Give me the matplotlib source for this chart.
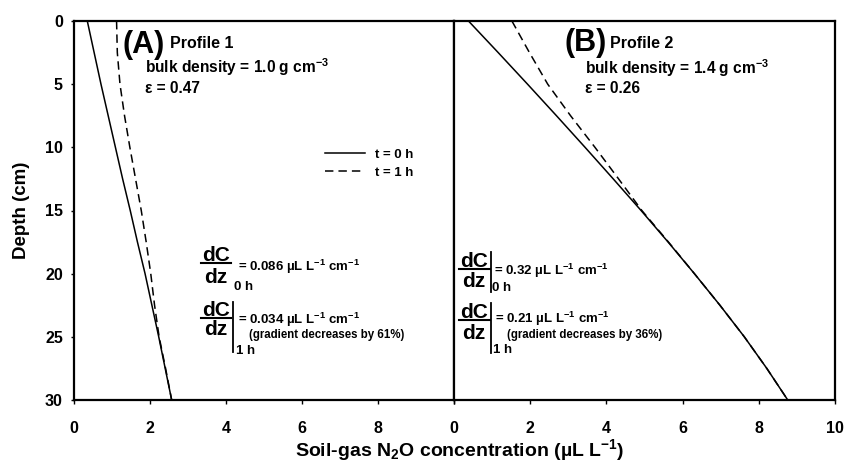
import matplotlib
matplotlib.use("Agg")
import matplotlib.pyplot as plt
from matplotlib.lines import Line2D

plt.rcParams['font.family'] = ['Liberation Sans', 'DejaVu Sans']
plt.rcParams['font.weight'] = 'bold'
plt.rcParams['mathtext.default'] = 'regular'

# ---------------- data ----------------
depth_a_0h = [0, 2.5, 5, 7.5, 10, 12.5, 15, 17.5, 20, 22.5, 25, 27.5, 30]
conc_a_0h = [0.35, 0.53, 0.71, 0.90, 1.09, 1.28, 1.48, 1.67, 1.87, 2.05, 2.23, 2.40, 2.57]
depth_a_1h = [0, 2.5, 5, 7.5, 10, 12.5, 15, 17.5, 20, 22.5, 25, 27.5, 30]
conc_a_1h = [1.12, 1.14, 1.21, 1.33, 1.47, 1.62, 1.77, 1.90, 2.02, 2.12, 2.24, 2.41, 2.57]

depth_b_0h = [0, 2.5, 5, 7.5, 10, 12.5, 15, 17.5, 20, 22.5, 25, 27.5, 30]
conc_b_0h = [0.38, 1.16, 1.93, 2.69, 3.44, 4.18, 4.91, 5.62, 6.31, 6.98, 7.62, 8.21, 8.76]
depth_b_1h = [0, 2.5, 5, 7.5, 10, 12.5, 15, 17.5, 20, 22.5, 25, 27.5, 30]
conc_b_1h = [1.52, 1.98, 2.46, 3.06, 3.70, 4.32, 4.93, 5.63, 6.31, 6.98, 7.62, 8.21, 8.76]

xticks = [0, 2, 4, 6, 8, 10]
xtick_labels_a = ['0', '2', '4', '6', '8', '']
xtick_labels_b = ['0', '2', '4', '6', '8', '10']
yticks = [0, 5, 10, 15, 20, 25, 30]
legend_labels = ['t = 0 h', 't = 1 h']

W, H = 846, 475
fig = plt.figure(figsize=(W / 100, H / 100), dpi=100)


def P(px, py):
    return px / W, 1 - py / H


axA = fig.add_axes([74 / W, 1 - 400 / H, 380 / W, 379 / H])
axB = fig.add_axes([454 / W, 1 - 400 / H, 381 / W, 379 / H])

LW = 1.1
dash = (0, (5.5, 3.3))
la, = axA.plot(conc_a_0h, depth_a_0h, color='black', lw=LW, label=legend_labels[0])
lb, = axA.plot(conc_a_1h, depth_a_1h, color='black', lw=LW, linestyle=dash, label=legend_labels[1])
axB.plot(conc_b_1h, depth_b_1h, color='black', lw=LW, linestyle=dash)
axB.plot(conc_b_0h, depth_b_0h, color='black', lw=LW)

for ax, labs in ((axA, xtick_labels_a), (axB, xtick_labels_b)):
    ax.set_xlim(0, 10)
    ax.set_ylim(30, 0)
    ax.set_xticks(xticks)
    ax.set_xticklabels(labs, fontsize=11.5, fontweight='bold')
    ax.tick_params(axis='x', direction='out', length=3, width=1, pad=12)
    for s in ax.spines.values():
        s.set_linewidth(1.6)

axA.set_yticks(yticks)
axA.set_yticklabels([str(v) for v in yticks], fontsize=11.5, fontweight='bold')
axA.tick_params(axis='y', direction='out', length=2, width=1, pad=6)
axB.set_yticks(yticks)
axB.set_yticklabels([])
axB.tick_params(axis='y', length=0)

axA.set_ylabel('Depth (cm)', fontsize=13.5, fontweight='bold', labelpad=11)
fig.text(*P(460, 456), 'Soil-gas N$_2$O concentration (µL L$^{-1}$)',
         fontsize=14, fontweight='bold', ha='center', va='baseline')

axA.legend(handles=[la, lb], loc='upper left', bbox_to_anchor=((325 - 74) / 380, 0.664),
           frameon=False, fontsize=9.5, handlelength=3.0, handletextpad=0.8,
           labelspacing=0.45, borderpad=0, borderaxespad=0)

# ---------------- panel headings ----------------
fig.text(*P(122, 53), '(A)', fontsize=22, fontweight='bold', va='baseline')
fig.text(*P(170, 47.5), 'Profile 1', fontsize=11.5, fontweight='bold', va='baseline')
fig.text(*P(145, 73.5), 'bulk density = 1.0 g cm$^{-3}$', fontsize=11.2, fontweight='bold', va='baseline')
fig.text(*P(145, 93), 'ε = 0.47', fontsize=11.2, fontweight='bold', va='baseline')

fig.text(*P(564, 51), '(B)', fontsize=22, fontweight='bold', va='baseline')
fig.text(*P(610, 47.5), 'Profile 2', fontsize=11.5, fontweight='bold', va='baseline')
fig.text(*P(585, 74), 'bulk density = 1.4 g cm$^{-3}$', fontsize=11.2, fontweight='bold', va='baseline')
fig.text(*P(585, 93), 'ε = 0.26', fontsize=11.2, fontweight='bold', va='baseline')


# ---------------- gradient annotations ----------------
def frac(xc, x0, x1, ybar, ytop_base, ybot_base):
    fig.text(*P(xc, ytop_base), 'dC', fontsize=15, fontweight='bold', ha='center', va='baseline')
    fig.text(*P(xc, ybot_base), 'dz', fontsize=15, fontweight='bold', ha='center', va='baseline')
    fig.add_artist(Line2D([x0 / W, x1 / W], [1 - ybar / H, 1 - ybar / H],
                          transform=fig.transFigure, color='black', lw=1.5))


def vbar(x, y0, y1):
    fig.add_artist(Line2D([x / W, x / W], [1 - y0 / H, 1 - y1 / H],
                          transform=fig.transFigure, color='black', lw=1.3))


# Panel A
frac(215.7, 200.5, 231, 263, 261, 283)
fig.text(*P(238, 271.5), '= 0.086 µL L$^{-1}$ cm$^{-1}$', fontsize=9.5, fontweight='bold', va='baseline')
fig.text(*P(234, 290), '0 h', fontsize=9.5, fontweight='bold', va='baseline')

frac(215.7, 200.5, 231, 318, 316, 335)
vbar(232.7, 301.5, 352)
fig.text(*P(238, 324), '= 0.034 µL L$^{-1}$ cm$^{-1}$', fontsize=9.5, fontweight='bold', va='baseline')
fig.text(*P(249, 338), '(gradient decreases by 61%)', fontsize=8.3, fontweight='bold', va='baseline')
fig.text(*P(236, 354), '1 h', fontsize=9.5, fontweight='bold', va='baseline')

# Panel B
frac(474, 459, 489.5, 269, 267, 287)
vbar(490.7, 252, 292)
fig.text(*P(494, 275), '= 0.32 µL L$^{-1}$ cm$^{-1}$', fontsize=9.5, fontweight='bold', va='baseline')
fig.text(*P(492, 291), '0 h', fontsize=9.5, fontweight='bold', va='baseline')

frac(474, 459, 489.5, 320, 318, 339)
vbar(490.7, 303, 353)
fig.text(*P(495, 323), '= 0.21 µL L$^{-1}$ cm$^{-1}$', fontsize=9.5, fontweight='bold', va='baseline')
fig.text(*P(507, 338), '(gradient decreases by 36%)', fontsize=8.3, fontweight='bold', va='baseline')
fig.text(*P(493, 353), '1 h', fontsize=9.5, fontweight='bold', va='baseline')

fig.savefig('out.png', dpi=100)
